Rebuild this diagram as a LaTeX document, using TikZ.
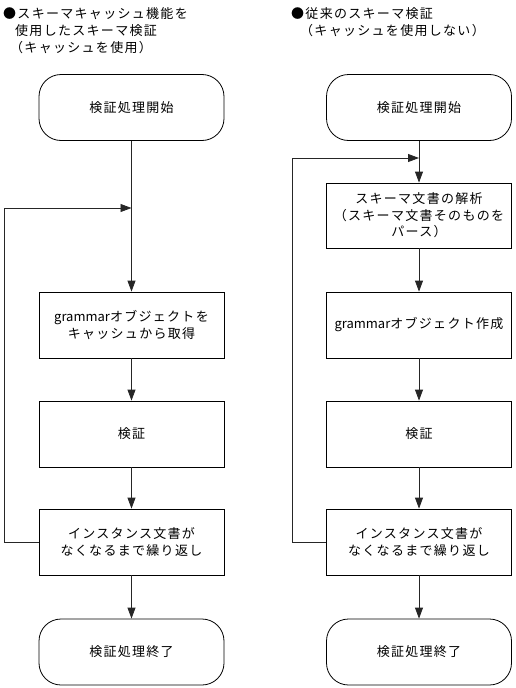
\documentclass[tikz,border=0pt]{standalone}
\usepackage{fontspec}
\setmainfont{Noto Sans CJK JP}[LetterSpace=10]
\newfontfamily\latinplain{Noto Sans CJK JP}
\usetikzlibrary{arrows.meta}
\tikzset{
  every node/.style={font=\fontsize{13}{16.5}\selectfont, inner sep=0pt},
  procbox/.style={draw=black, line width=0.8pt, minimum width=185pt, minimum height=66pt, align=center},
  termbox/.style={procbox, rounded corners=22pt},
  titletext/.style={anchor=west},
  arr/.style={draw=black!85, line width=0.8pt, -{Triangle[length=11pt,width=8pt]}}
}
\begin{document}
\begin{tikzpicture}[x=1pt,y=-1pt]
\useasboundingbox (0,0) rectangle (516,688);
% titles
\node[titletext] (t1) at (3,14) {●スキーマキャッシュ機能を};
\node[titletext] (t2) at (15,31) {使用したスキーマ検証};
\node[titletext] (t3) at (10,48) {（キャッシュを使用）};
\node[titletext] (t4) at (291,14) {●従来のスキーマ検証};
\node[titletext] (t5) at (300,31) {（キャッシュを使用しない）};
% left flow
\node[termbox] (Ls) at (131.5,107.5) {検証処理開始};
\node[procbox] (L1) at (131.5,325) {{\latinplain grammar}オブジェクトを\\キャッシュから取得};
\node[procbox] (L2) at (131.5,434) {検証};
\node[procbox] (L3) at (131.5,542) {インスタンス文書が\\なくなるまで繰り返し};
\node[termbox] (Le) at (131.5,652) {検証処理終了};
\coordinate (Lj) at (131.5,208);
\coordinate (Lc) at (4,208);
\draw[arr] (Ls) -- (L1);
\draw[arr] (L1) -- (L2);
\draw[arr] (L2) -- (L3);
\draw[arr] (L3) -- (Le);
\draw[arr] (L3.west) -| (Lc) -- (Lj);
% right flow
\node[termbox] (Rs) at (419,107.5) {検証処理開始};
\node[procbox, minimum height=65pt] (R1) at (419,215.5) {スキーマ文書の解析\\（スキーマ文書そのものを\\パース）};
\node[procbox] (R2) at (419,325) {{\latinplain grammar}オブジェクト作成};
\node[procbox] (R3) at (419,434) {検証};
\node[procbox] (R4) at (419,542) {インスタンス文書が\\なくなるまで繰り返し};
\node[termbox] (Re) at (419,652) {検証処理終了};
\coordinate (Rj) at (419,158);
\coordinate (Rc) at (292,158);
\draw[arr] (Rs) -- (R1);
\draw[arr] (R1) -- (R2);
\draw[arr] (R2) -- (R3);
\draw[arr] (R3) -- (R4);
\draw[arr] (R4) -- (Re);
\draw[arr] (R4.west) -| (Rc) -- (Rj);
\end{tikzpicture}
\end{document}
